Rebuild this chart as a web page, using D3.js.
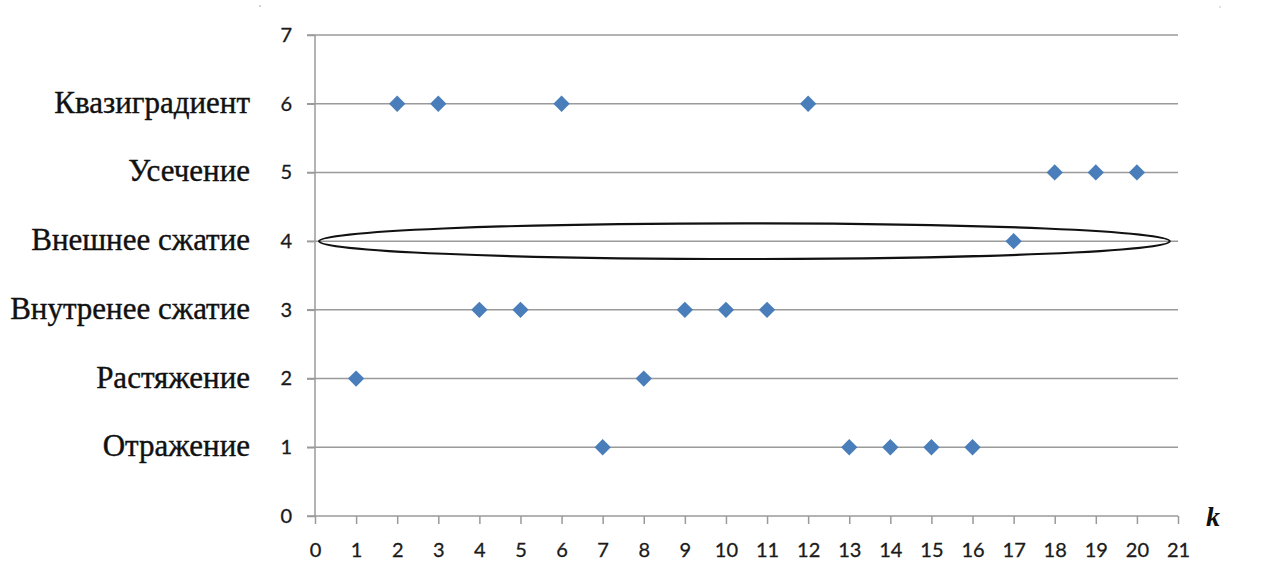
<!DOCTYPE html>
<html><head><meta charset="utf-8">
<script src="https://cdn.jsdelivr.net/npm/d3@7"></script>
<style>body{margin:0;background:#fff}svg{display:block}</style>
</head><body>
<svg id="c" width="1262" height="567"></svg>
<script>
const kValues = [1,2,3,4,5,6,7,8,9,10,11,12,13,14,15,16,17,18,19,20];
const opValues = [2,6,6,3,3,6,1,2,3,3,3,6,1,1,1,1,4,5,5,5];
const categoryLabels = ["Отражение","Растяжение","Внутренее сжатие","Внешнее сжатие","Усечение","Квазиградиент"];
const categoryLevels = [1,2,3,4,5,6];
const xTicks = d3.range(0,22);
const yTicks = d3.range(0,8);
const ellipseAnno = {cx:10.45, cy:4, rx:10.35, ry:0.26};

const svg = d3.select("#c");
const x = d3.scaleLinear().domain([0,21]).range([315,1178]);
const y = d3.scaleLinear().domain([0,7]).range([516,35]);
const grid = "#9a9a9a";
const tickFont = "Lato, 'Open Sans', sans-serif";

// gridlines
svg.append("g").selectAll("line").data(yTicks.filter(d=>d>0)).join("line")
  .attr("x1",x(0)-8).attr("x2",x(21)).attr("y1",d=>y(d)).attr("y2",d=>y(d))
  .attr("stroke",grid).attr("stroke-width",1.5);

// y axis
const ya = svg.append("g").attr("transform",`translate(${x(0)},0)`)
  .call(d3.axisLeft(y).tickValues(yTicks).tickSize(8).tickPadding(15).tickFormat(d3.format("d")));
ya.select(".domain").attr("stroke",grid).attr("stroke-width",1.5).attr("d",`M-8,${y(0)}H0V${y(7)}`);
ya.selectAll(".tick line").attr("stroke",grid).attr("stroke-width",1.5);
ya.selectAll("text").attr("font-family",tickFont).attr("font-size",20).attr("fill","#1a1a1a")
  .attr("stroke","#1a1a1a").attr("stroke-width",0.3);

// x axis
const xa = svg.append("g").attr("transform",`translate(0,${y(0)})`)
  .call(d3.axisBottom(x).tickValues(xTicks).tickSize(8).tickPadding(19).tickFormat(d3.format("d")));
xa.select(".domain").attr("stroke",grid).attr("stroke-width",1.5).attr("d",`M${x(0)},0H${x(21)}`);
xa.selectAll(".tick line").attr("stroke",grid).attr("stroke-width",1.5);
xa.selectAll("text").attr("font-family",tickFont).attr("font-size",20).attr("fill","#1a1a1a")
  .attr("stroke","#1a1a1a").attr("stroke-width",0.3);

// category labels
svg.append("g").selectAll("text").data(categoryLevels).join("text")
  .attr("x",250).attr("y",d=>y(d)+9).attr("text-anchor","end")
  .attr("font-family","'Liberation Serif','Times New Roman',serif").attr("font-size",31).attr("fill","#111")
  .attr("stroke","#111").attr("stroke-width",0.4)
  .text((d,i)=>categoryLabels[i]);

// k label
svg.append("text").attr("x",1206).attr("y",y(0)+10)
  .attr("font-family","'Liberation Serif',serif").attr("font-style","italic").attr("font-weight","bold")
  .attr("font-size",28).attr("fill","#111").text("k");

// ellipse annotation
svg.append("ellipse").attr("cx",x(ellipseAnno.cx)).attr("cy",y(ellipseAnno.cy))
  .attr("rx",x(ellipseAnno.rx)-x(0)).attr("ry",y(0)-y(ellipseAnno.ry))
  .attr("fill","none").attr("stroke","#111").attr("stroke-width",2.2);

// markers
const sym = d3.symbol().type(d3.symbolDiamond2).size(170);
svg.append("g").selectAll("path").data(kValues).join("path")
  .attr("transform",(d,i)=>`translate(${x(d)},${y(opValues[i])})`)
  .attr("d",sym).attr("fill","#4a7ebb");

// small artifacts
svg.append("circle").attr("cx",260).attr("cy",6).attr("r",0.8).attr("fill","#999");
svg.append("circle").attr("cx",1220).attr("cy",7).attr("r",0.8).attr("fill","#bbb");
</script>
</body></html>
